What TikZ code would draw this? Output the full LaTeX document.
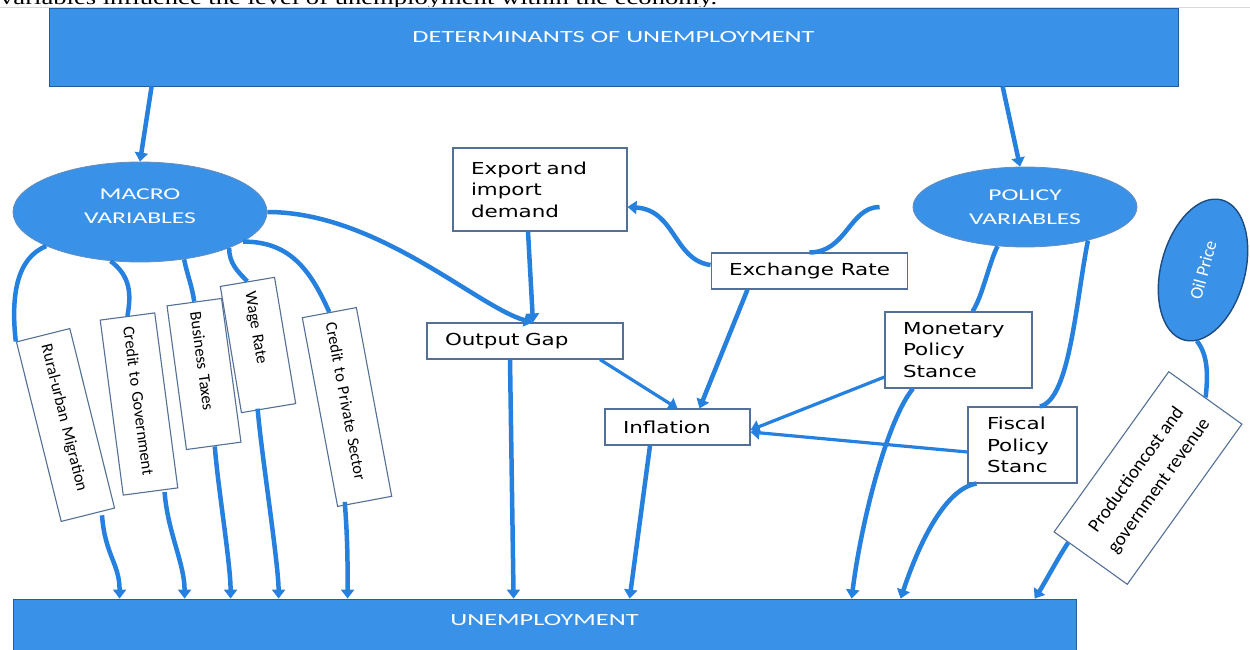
\documentclass[tikz,border=0pt]{standalone}
\usepackage{fontspec}
\newfontfamily\bannerfont{Carlito}[FakeStretch=1.55]
\newfontfamily\boxfont{DejaVu Sans}[FakeStretch=1.3]
\newfontfamily\narrowfont{Carlito}
\newfontfamily\pagefont{Liberation Serif}[FakeStretch=1.33]
\usetikzlibrary{arrows.meta,shapes.geometric,calc}
\definecolor{fillblue}{RGB}{58,146,232}
\definecolor{edgeblue}{RGB}{36,92,160}
\definecolor{lineblue}{RGB}{38,128,222}
\definecolor{boxline}{RGB}{84,112,150}
\tikzset{
  banner/.style={rectangle,fill=fillblue,draw=edgeblue,line width=0.8pt,inner sep=0pt,text=white,font=\bannerfont\fontsize{17}{20}\selectfont},
  varell/.style={ellipse,fill=fillblue,draw=edgeblue!70,line width=0.8pt,inner sep=0pt,text=white,align=center,font=\bannerfont\fontsize{16.5}{24}\selectfont},
  varbox/.style={rectangle,draw=boxline,fill=white,line width=1.1pt,inner xsep=18pt,inner ysep=0pt,align=left,font=\boxfont\fontsize{16.5}{21.5}\selectfont},
  slantbox/.style={rectangle,draw=boxline,fill=white,line width=1.1pt,inner xsep=10pt,inner ysep=0pt,minimum height=55pt,align=left,font=\narrowfont\fontsize{16.5}{20}\selectfont},
  link/.style={draw=lineblue,line width=4.5pt},
  arr/.style={link,-{Triangle[length=9pt,width=13pt]}},
  thinarr/.style={arr,line width=3.2pt},
}

\begin{document}
\begin{tikzpicture}[x=1pt,y=-1pt]
\useasboundingbox (0,0) rectangle (1250,650);
\clip (0,0) rectangle (1250,650);
\node[anchor=base west,inner sep=0pt,font=\pagefont\fontsize{20}{24}\selectfont] (pageline) at (0,5) {variables influence the level of unemployment within the economy.};
\draw[gray!30,line width=0.8pt] (0,7.5) -- (1250,7.5);

% banners and variable groups
\node[banner,minimum width=1129pt,text height=35pt,text depth=43pt] (determ) at (613.5,47) {DETERMINANTS OF UNEMPLOYMENT};
\node[banner,minimum width=1063pt,text height=26.5pt,text depth=26.5pt] (unemp) at (544.5,625.5) {UNEMPLOYMENT};
\node[varell,minimum width=254pt,minimum height=100pt,text depth=12pt] (macro) at (140,212) {MACRO\\VARIABLES};
\node[varell,minimum width=224pt,minimum height=80pt] (policy) at (1025,207) {POLICY\\VARIABLES};
\node[varell,draw=edgeblue!80!black,line width=1.4pt,minimum width=145pt,minimum height=84pt,rotate=75,font=\narrowfont\fontsize{18}{20}\selectfont] (oil) at (1203,270) {Oil Price};

% channels
\node[varbox,minimum width=174pt,minimum height=83pt,text width=138pt] (export) at (540,189.5) {Export and\\import\\demand};
\node[varbox,minimum width=195pt,minimum height=36pt] (exch) at (809.5,271) {Exchange Rate};
\node[varbox,minimum width=196pt,minimum height=36pt,text width=160pt] (outgap) at (525,341) {Output Gap};
\node[varbox,minimum width=145pt,minimum height=36pt,text width=109pt] (infl) at (677.5,427) {Inflation};
\node[varbox,minimum width=145pt,minimum height=76pt,text width=111pt] (monet) at (958.5,350) {Monetary\\Policy\\Stance};
\node[varbox,minimum width=109pt,minimum height=76pt,text width=71pt] (fiscal) at (1022.5,445) {Fiscal\\Policy\\Stanc};
\foreach \nm/\px/\py/\ang/\lw/\tw/\txt in {
  rural/65.5/425/-76/185/165/Rural-urban Migration,
  credgov/139/404/-82.5/176.5/156.5/Credit to Government,
  bustax/204/374/-82.3/145/125/Business Taxes,
  wage/258/345/-80.5/128/108/Wage Rate,
  credpriv/347/407/-79.4/192/172/Credit to Private Sector}
  \node[slantbox,rotate=\ang,minimum width=\lw pt,text width=\tw pt] (\nm) at (\px,\py) {\txt};
\node[slantbox,rotate=54.4,minimum width=197pt,minimum height=90pt,align=center,font=\narrowfont\fontsize{19}{28}\selectfont] (prod) at (1148,478) {Productioncost and\\government revenue};

% links
\draw[arr] ([xshift=103pt]determ.south west) -- (macro.north);
\draw[arr] ([xshift=954pt]determ.south west) -- (policy.97);
\draw[link] (macro.200) .. controls +(-30,12) and +(-5,-45) .. (rural.south west);
\draw[link] (macro.239) .. controls +(20,15) and +(4,-22) .. (credgov.west);
\draw[link] (macro.313) .. controls +(3,15) and +(-2,-15) .. (bustax.west);
\draw[link] (macro.338) .. controls +(0,15) and +(-10,-10) .. (wage.west);
\draw[link] (macro.344) .. controls +(45,0) and +(-20,-45) .. (credpriv.west);
\draw[arr] (macro.east) .. controls +(110,0) and +(-55,-15) .. ([xshift=8pt]outgap.north);
\draw[arr] ([xshift=-12pt]export.south) -- ([xshift=8pt]outgap.north);
\draw[arr] ([yshift=6pt]exch.west) .. controls +(-37,-5) and +(48,3) .. ([yshift=-17.5pt]export.east);
\coordinate (polgap) at ([xshift=-33pt]policy.west);
\draw[link] (polgap) .. controls +(-30,0) and +(37,0) .. (exch.north);
\draw[arr] ([xshift=-62pt]exch.south) -- ([xshift=22pt]infl.north);
\draw[thinarr] ([xshift=75pt]outgap.south) -- (infl.north);
\draw[thinarr] ([yshift=-27pt]monet.west) -- ([yshift=-3pt]infl.east);
\draw[thinarr] ([yshift=-7pt]fiscal.west) -- ([yshift=-5pt]infl.east);
\draw[link] (policy.235) .. controls +(-8,15) and +(10,-15) .. ([xshift=14pt]monet.north);
\draw[link] (policy.332) .. controls +(-12,60) and +(30,-7) .. ([xshift=17.5pt]fiscal.north);
\draw[link] (oil.190) .. controls +(12,15) and +(2,-20) .. (prod.east);

% into unemployment
\foreach \nm/\dx/\tip in {rural/14/107, credgov/14/172, bustax/1/218, wage/-11/266, credpriv/-20/335}
  \draw[arr] ([xshift=\dx pt]\nm.east) .. controls +(3,40) and +(0,-35) .. ([xshift=\tip pt]unemp.north west);
\draw[arr] ([xshift=-15pt]outgap.south) -- ([xshift=501pt]unemp.north west);
\draw[arr] ([xshift=-27.5pt]infl.south) -- ([xshift=617pt]unemp.north west);
\draw[arr] ([xshift=-45.5pt]monet.south) .. controls +(-25,30) and +(10,-80) .. ([xshift=839pt]unemp.north west);
\draw[arr] ([xshift=9pt]fiscal.south west) .. controls +(-30,5) and +(20,-60) .. ([xshift=888pt]unemp.north west);
\draw[arr] ($(prod.north west)!0.2!(prod.south west)$) .. controls +(-10,15) and +(8,-12) .. ([xshift=1022pt]unemp.north west);
\end{tikzpicture}
\end{document}
